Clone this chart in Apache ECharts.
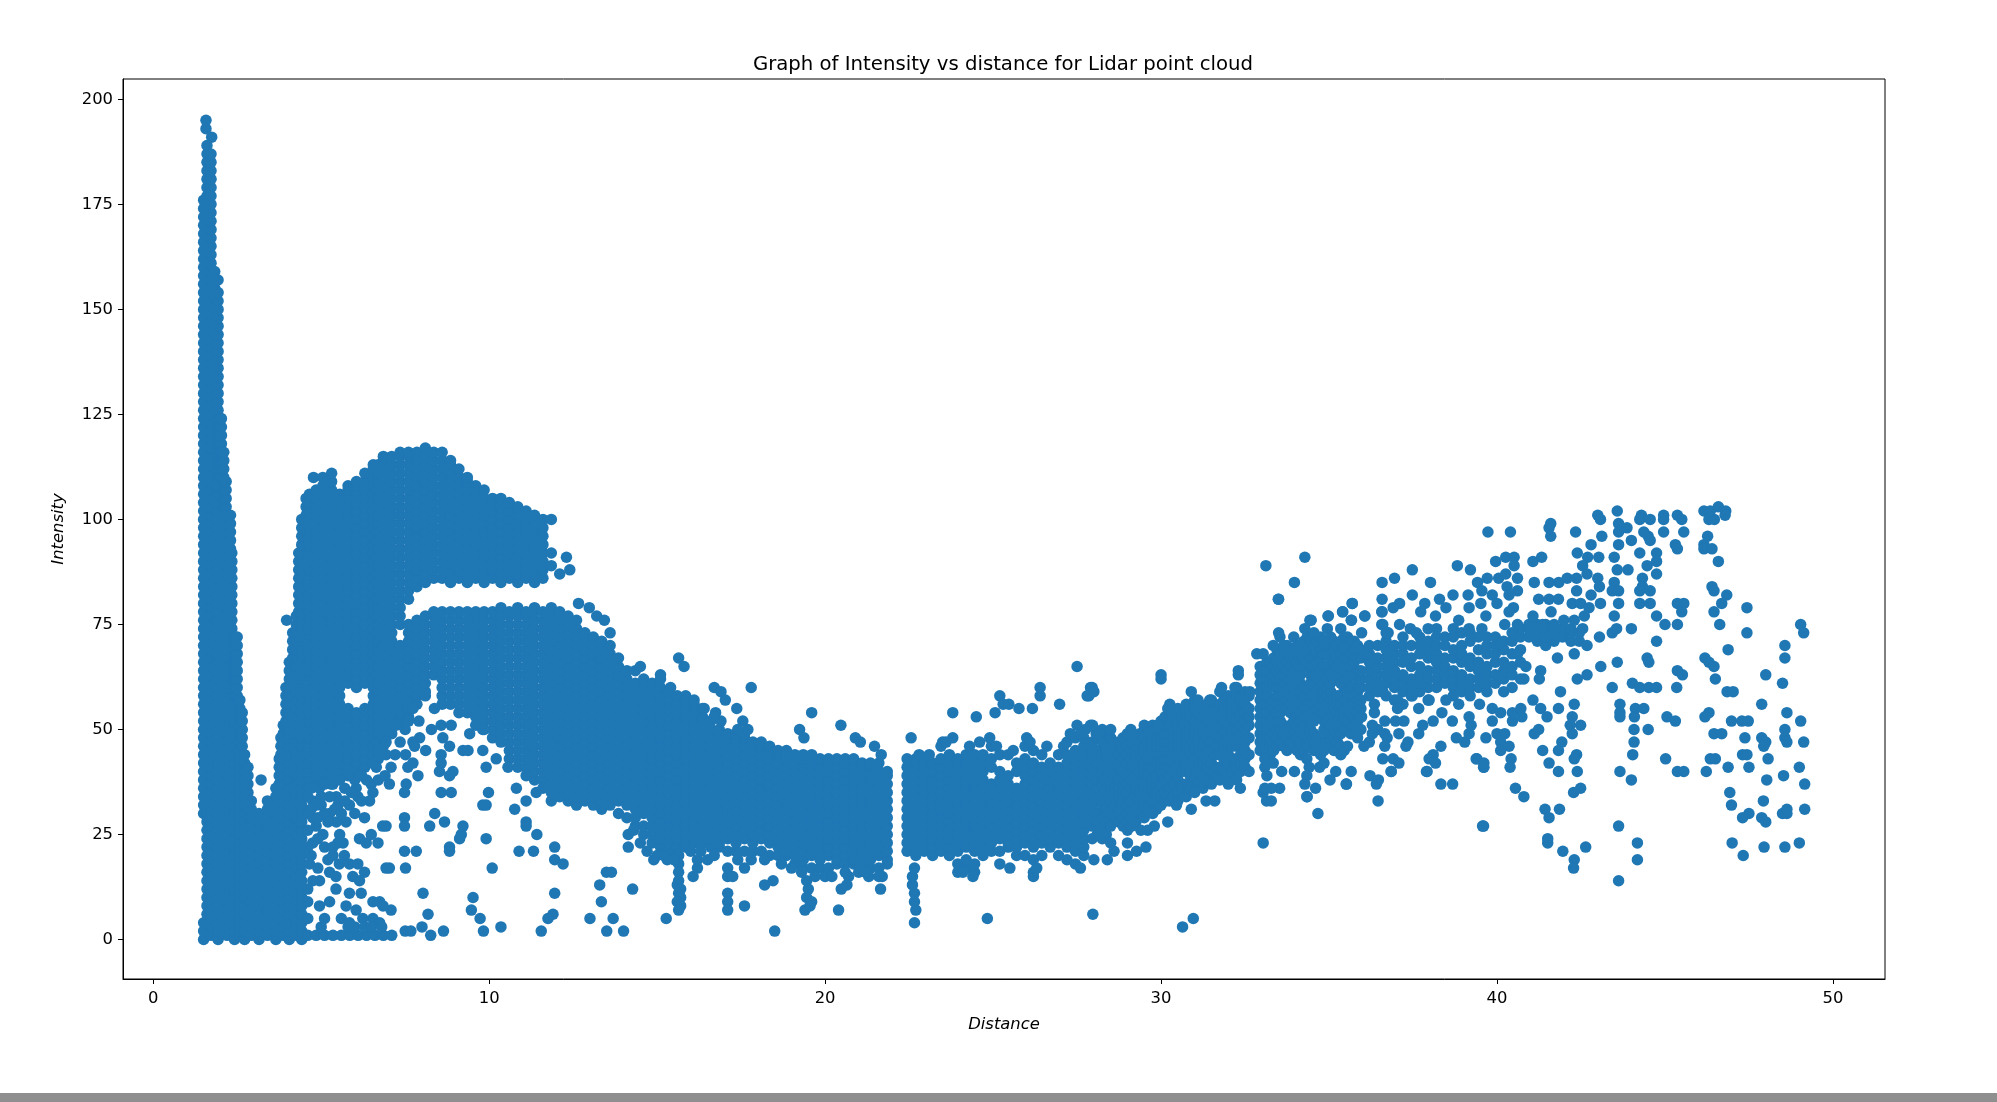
<!DOCTYPE html>
<html><head><meta charset="utf-8">
<script src="https://cdn.jsdelivr.net/npm/echarts@6/dist/echarts.min.js"></script>
<style>html,body{margin:0;padding:0;background:#fff}#c{width:1997px;height:1102px}</style>
</head><body><div id="c"></div>
<script>
const xTickValues=[0,10,20,30,40,50];
const yTickValues=[0,25,50,75,100,125,150,175,200];
const chartTitle='Graph of Intensity vs distance for Lidar point cloud';
// columns: [distance, intensity, intensity, ...]
const spikeCols=[
[1.5,0,2,4,30,32,34,36,38,40,42,44,46,48,50,52,54,56,58,60,62,64,66,68,70,72,74,76,78,80,82,84,86,88,90,92,94,96,98,100,102,104,106,108,110,112,114,116,118,120,122,124,126,128,130,132,134,136,138,140,142,144,146,148,150,152,154,156,158,160,162,164,166,168,170,172,174,176],
[1.6,4,6,8,10,12,14,16,18,20,22,24,26,28,30,177,179,181,183,185,187,189],
[1.57,193,195],[1.74,191],
[1.72,1,3,5,7,9,11,13,15,17,19,21,23,25,27,29,31,33,35,37,39,41,43,45,47,49,51,53,55,57,59,61,63,65,67,69,71,73,75,77,79,81,83,85,87,89,91,93,95,97,99,101,103,105,107,109,111,113,115,117,119,121,123,125,127,129,131,133,135,137,139,141,143,145,147,149,151,153,155,157,159,161,163,165,167,169,171,173,175,177,179,181,183,185,187],
[1.83,153,155,157,159],
[1.93,0,2,4,6,8,10,12,14,16,18,20,22,24,26,28,30,32,34,36,38,40,42,44,46,48,50,52,54,56,58,60,62,64,66,68,70,72,74,76,78,80,82,84,86,88,90,92,94,96,98,100,102,104,106,108,110,112,114,116,118,120,122,124,126,128,130,132,134,136,138,140,142,144,146,148,150,152,154,157],
[2.03,110,112,114,116,118,120,122,124],
[2.1,104,106,108,110,112,114,116],
[2.17,103,105,107,109],
[2.2,1,3,5,7,9,11,13,15,17,19,21,23,25,27,29,31,33,35,37,39,41,43,45,47,49,51,53,55,57,59,61,63,65,67,69,71,73,75,77,79,81,83,85,87,89,91,93,95,97,99,101],
[2.3,93,95,97,99,101],
[2.34,74,76,78,80,82,84,86,88,90,92],
[2.42,0,2,4,6,8,10,12,14,16,18,20,22,24,26,28,30,32,34,36,38,40,42,44,46,48,50,52,54,56,58,60,62,64,66,68,70,72],
[2.5,58,60,62,64,66,68,70,72],
[2.58,1,3,5,7,9,11,13,15,17,19,21,23,25,27,29,31,33,35,37,39,41,43,45,47,49,51,53,55,57],
[2.65,46,48,50,52,54],
[2.72,0,2,4,6,8,10,12,14,16,18,20,22,24,26,28,30,32,34,36,38,40,42,44],
[2.82,35,37,39,41],
[2.92,1,3,5,7,9,11,13,15,17,19,21,23,25,27,29,31,33],
[3.15,0,2,4,6,8,10,12,14,16,18,20,22,24,26,28,30],
[3.21,38],
[3.4,1,3,5,7,9,11,13,15,17,19,21,23,25,27,29,31,33],
[3.65,0,2,4,6,8,10,12,14,16,18,20,22,24,26,28,30,32,34,36],
[3.75,37,39,41,43],
[3.8,44,46,48],
[3.87,1,3,5,7,9,11,13,15,17,19,21,23,25,27,29,31,33,35,37,39,41,43,45,47,49,51],
[3.95,50,52,54,56,58,60],
[3.97,76],
[4.05,0,2,4,6,8,10,12,14,16,18,20,22,24,26,28,30,32,34,36,38,40,42,44,46,48,50,52,54,56,58,60,62,64,66],
[4.15,67,69,71,73],
[4.26,1,3,5,7,9,11,13,15,17,19,21,23,25,27,29,31,33,35,37,39,41,43,45,47,49,51,53,55,57,59,61,63,65,67,69,71,73,75,77],
[4.33,78,80,82,84,86,88,90,92],
[4.42,0,2,4,6,8,10,12,14,16,18,20,22,24,26,28,30,32,34,36,38,40,42,44,46,48,50,52,54,56,58,60,62,64,66,68,70,72,74,76,78,80,82,84,86,88,90,92,94,96,98,100]
];
const leftLobeCols=[
[4.55,101,103,105],
[4.65,36,38,40,42,44,46,48,50,52,54,56,58,60,62,64,66,68,70,72,74,76,78,80,82,84,86,88,90,92,94,96,98,100,102,104,106],
[4.77,110],
[4.85,37,39,41,43,45,47,49,51,53,55,57,59,61,63,65,67,69,71,73,75,77,79,81,83,85,87,89,91,93,95,97,99,101,103,105,107],
[5.05,38,40,42,44,46,48,50,52,54,56,58,60,62,64,66,68,70,72,74,76,78,80,82,84,86,88,90,92,94,96,98,100,102,104,106,108,110],
[5.31,39,41,43,45,47,49,51,53,55,57,59,61,63,65,67,69,71,73,75,77,79,81,83,85,87,89,91,93,95,97,99,101,103,105,107,109,111],
[5.55,40,42,44,46,48,50,52,54,56,58,60,62,64,66,68,70,72,74,76,78,80,82,84,86,88,90,92,94,96,98,100,102,104,106],
[5.8,41,43,45,47,49,51,53,55,61,63,65,67,69,71,73,75,77,79,81,83,85,87,89,91,93,95,97,99,101,103,105,107,108],
[6.05,40,42,44,46,48,50,52,54,60,62,64,66,68,70,72,74,76,78,80,82,84,86,88,90,92,94,96,98,100,102,104,106,108,109],
[6.3,41,43,45,47,49,51,53,55,61,63,65,67,69,71,73,75,77,79,81,83,85,87,89,91,93,95,97,99,101,103,105,107,109,111],
[6.55,42,44,46,48,50,52,54,56,58,60,62,64,66,68,70,72,74,76,78,80,82,84,86,88,90,92,94,96,98,100,102,104,106,108,110,112,113],
[6.7,43,45,47,49,51,53,55,57,59,61,63,65,67,69,71,73,75,77,79,81,83,85,87,89,91,93,95,97,99,101,103,105,107,109,111,113],
[6.85,46,48,50,52,54,56,58,60,62,64,66,68,70,72,74,76,78,80,82,84,86,88,90,92,94,96,98,100,102,104,106,108,110,112,114,115],
[7.1,49,51,53,55,57,59,61,63,65,67,69,71,73,75,77,79,81,83,85,87,89,91,93,95,97,99,101,103,105,107,109,111,113,115],
[7.35,52,54,56,58,60,62,64,66,68,70,75,77,79,81,83,85,87,89,91,93,95,97,99,101,103,105,107,109,111,113,115,116],
[7.6,53,55,57,59,61,63,65,67,69,71,73,75,81,83,85,87,89,91,93,95,97,99,101,103,105,107,109,111,113,115,116],
[7.85,56,58,60,62,64,66,68,70,72,74,76,84,86,88,90,92,94,96,98,100,102,104,106,108,110,112,114,116],
[8.1,58,59,61,63,65,67,69,71,73,75,77,85,87,89,91,93,95,97,99,101,103,105,107,109,111,113,115,117],
[8.35,63,65,67,69,71,73,75,77,78,86,88,90,92,94,96,98,100,102,104,106,108,110,112,114,116],
[8.6,56,58,60,62,64,66,68,70,72,74,76,78,86,88,90,92,94,96,98,100,102,104,106,108,110,112,114,116],
[8.85,56,58,60,62,64,66,68,70,72,74,76,78,85,87,89,91,93,95,97,99,101,103,105,107,109,111,113,114],
[9.1,54,56,58,60,62,64,66,68,70,72,74,76,78,86,88,90,92,94,96,98,100,102,104,106,108,110,112],
[9.35,54,56,58,60,62,64,66,68,70,72,74,76,78,85,87,89,91,93,95,97,99,101,103,105,107,109,110],
[9.6,51,53,55,57,59,61,63,65,67,69,71,73,75,77,78,86,88,90,92,94,96,98,100,102,104,106,108],
[9.85,50,52,54,56,58,60,62,64,66,68,70,72,74,76,78,85,87,89,91,93,95,97,99,101,103,105,107],
[10.1,48,50,52,54,56,58,60,62,64,66,68,70,72,74,76,78,86,88,90,92,94,96,98,100,102,104,105],
[10.35,47,49,51,53,55,57,59,61,63,65,67,69,71,73,75,77,79,85,87,89,91,93,95,97,99,101,103,105],
[10.6,43,45,47,49,51,53,55,57,59,61,63,65,67,69,71,73,75,77,78,86,88,90,92,94,96,98,100,102,104],
[10.85,41,43,45,47,49,51,53,55,57,59,61,63,65,67,69,71,73,75,77,79,85,87,89,91,93,95,97,99,101,103],
[11.1,39,41,43,45,47,49,51,53,55,57,59,61,63,65,67,69,71,73,75,77,78,86,88,90,92,94,96,98,100,102],
[11.35,38,40,42,44,46,48,50,52,54,56,58,60,62,64,66,68,70,72,74,76,78,79,85,87,89,91,93,95,97,99,101],
[11.6,36,38,40,42,44,46,48,50,52,54,56,58,60,62,64,66,68,70,72,74,76,78,86,88,90,92,94,96,98,100],
[11.85,33,35,37,39,41,43,45,47,49,51,53,55,57,59,61,63,65,67,69,71,73,75,77,79,89,92,100],
[12.1,34,36,38,40,42,44,46,48,50,52,54,56,58,60,62,64,66,68,70,72,74,76,78,87],
[12.3,91],[12.4,88],
[12.35,33,35,37,39,41,43,45,47,49,51,53,55,57,59,61,63,65,67,69,71,73,75,77],
[12.6,32,34,36,38,40,42,44,46,48,50,52,54,56,58,60,62,64,66,68,70,72,74,76],
[12.66,80],[12.98,79],[13.2,77],[13.43,76],
[12.85,33,35,37,39,41,43,45,47,49,51,53,55,57,59,61,63,65,67,69,71,73],
[13.1,32,34,36,38,40,42,44,46,48,50,52,54,56,58,60,62,64,66,68,70,72],
[13.35,31,33,35,37,39,41,43,45,47,49,51,53,55,57,59,61,63,65,67,69,71],
[13.6,32,34,36,38,40,42,44,46,48,50,52,54,56,58,60,62,64,66,68,70,73],
[13.85,30,33,35,37,39,41,43,45,47,49,51,53,55,57,59,61,63,65,67]
];
const midCols=[
[14.1,29,32,34,36,38,40,42,44,46,48,50,52,54,56,58,60,62,64],
[14.35,27,29,31,33,35,37,39,41,43,45,47,49,51,53,55,57,59,61,64],
[14.6,25,27,30,32,34,36,38,40,42,44,46,48,50,52,54,56,58,60,62],
[14.85,23,25,27,29,31,33,35,37,39,41,43,45,47,49,51,53,55,57,59,61],
[15.1,22,24,26,28,30,32,34,36,38,40,42,44,46,48,50,52,54,56,58,60,62],
[15.35,21,23,25,27,29,31,33,35,37,39,41,43,45,47,49,51,53,55,57,59],
[15.6,20,22,24,26,28,30,32,34,36,38,40,42,44,46,48,50,52,54,56,58],
[15.85,22,23,25,27,29,31,33,35,37,39,41,43,45,47,49,51,53,55,57,58],
[16.1,23,24,26,28,30,32,34,36,38,40,42,44,46,48,50,52,54,56],
[16.35,23,25,27,29,31,33,35,37,39,41,43,45,47,49,51,53,55],
[16.6,22,24,26,28,30,32,34,36,38,40,42,44,46,48,50,52],
[16.85,22,23,25,27,29,31,33,35,37,39,41,43,45,47,49,50],
[17.1,21,24,26,28,30,32,34,36,38,40,42,44,46,48,49],
[17.35,21,23,25,27,29,31,33,35,37,39,41,43,45,47,49],
[17.6,21,24,26,28,30,32,34,36,38,40,42,44,46,48,49],
[17.85,21,23,25,27,29,31,33,35,37,39,41,43,45,47],
[18.1,21,24,26,28,30,32,34,36,38,40,42,44,46,47],
[18.35,20,23,25,27,29,31,33,35,37,39,41,43,45,46],
[18.6,20,22,24,26,28,30,32,34,36,38,40,42,44,45],
[18.85,20,21,23,25,27,29,31,33,35,37,39,41,43,45],
[19.1,18,20,22,24,26,28,30,32,34,36,38,40,42,44],
[19.35,17,19,21,23,25,27,29,31,33,35,37,39,41,43,44],
[19.6,17,20,22,24,26,28,30,32,34,36,38,40,42,44],
[19.85,17,19,21,23,25,27,29,31,33,35,37,39,41,43],
[20.1,17,20,22,24,26,28,30,32,34,36,38,40,42,43],
[20.35,18,19,21,23,25,27,29,31,33,35,37,39,41,43],
[20.6,18,20,22,24,26,28,30,32,34,36,38,40,42,43],
[20.85,18,19,21,23,25,27,29,31,33,35,37,39,41,43],
[21.1,18,20,22,24,26,28,30,32,34,36,38,40,42],
[21.35,17,19,21,23,25,27,29,31,33,35,37,39,41,42],
[21.6,17,20,22,24,26,28,30,32,34,36,38,40,42],
[21.85,18,19,21,23,25,27,29,31,33,35,37,39,40]
];
const farCols=[
[22.44,21,23,25,27,29,31,33,35,37,39,41,43],
[22.7,20,22,24,26,28,30,32,34,36,38,40,42,43],
[22.95,21,23,25,27,29,31,33,35,37,39,41,43],
[23.2,20,22,24,26,28,30,32,34,36,38,40,42],
[23.45,21,23,25,27,29,31,33,35,37,39,41,43,46],
[23.7,20,22,24,26,28,30,32,34,36,38,40,42,44],
[23.95,16,18,21,23,25,27,29,31,33,35,37,39,41,43],
[24.2,17,19,22,24,26,28,30,32,34,36,38,40,42,44],
[24.45,16,18,21,23,25,27,29,31,33,35,37,39,41,43,44],
[24.7,20,22,24,26,28,30,32,34,36,38,40,42,44],
[24.95,21,23,25,27,29,31,33,35,37,41,43,46],
[25.2,21,24,26,28,30,32,34,36,38,40,44],
[25.45,22,23,25,27,29,31,33,35,37,39,44],
[25.7,20,22,24,26,28,30,32,34,36,40,42],
[25.95,20,23,25,27,29,31,33,35,37,39,41,43,46],
[26.2,16,19,22,24,26,28,30,32,34,36,38,40,42,45],
[26.45,20,23,25,27,29,31,33,35,37,39,41,44],
[26.7,22,24,26,28,30,32,34,36,38,40,42],
[26.95,20,23,25,27,29,31,33,35,37,39,41,44],
[27.2,19,22,24,26,28,30,32,34,36,38,40,42,44,47],
[27.45,18,21,23,25,27,29,31,33,35,37,39,41,43,45,48],
[27.7,20,22,24,26,28,30,32,34,36,38,40,42,44,46,48],
[27.95,24,27,29,31,33,35,37,39,41,43,45,47],
[28.1,25,28,30,33,36,38,40,42,45,48],
[28.25,24,26,29,32,34,37,39,41,44,47,50],
[28.37,25,28,31,33,36,38,43,45,46,49],
[28.5,27,30,33,35,37,40,42,44,46,48],
[28.62,29,32,34,36,39,41,43,45,47],
[28.75,28,31,34,36,38,41,44,47],
[28.87,27,29,33,35,37,40,43,45,48],
[29,26,28,30,32,35,37,39,42,44,46,49],
[29.12,27,29,31,33,36,38,41,43,45,47],
[29.25,28,31,34,36,39,41,43,45,48],
[29.37,30,33,35,38,40,42,44,47,49],
[29.5,29,32,35,37,40,42,44,46,48,50],
[29.62,31,34,36,39,41,43,45,47,49],
[29.75,30,33,36,38,41,43,45,47,49,51],
[29.87,31,35,37,39,42,44,46,48,50],
[30,32,34,37,40,42,44,46,48,50,52],
[30.12,33,35,38,41,43,45,47,49,51,53],
[30.25,33,36,39,41,43,45,47,49,51,54],
[30.37,34,37,40,42,44,46,48,50,53],
[30.5,33,35,38,41,44,46,48,50,52,55],
[30.62,35,37,40,43,45,47,49,51,53],
[30.75,34,37,40,42,45,47,49,52,54,56],
[30.87,36,39,41,44,46,48,50,53,55],
[31,35,38,41,43,46,48,50,52,55,57],
[31.12,37,40,42,45,47,49,51,54,56],
[31.25,36,39,42,44,46,49,51,53,55],
[31.37,38,41,43,45,48,50,52,54,56],
[31.5,37,40,42,45,47,50,52,54,57],
[31.62,39,41,44,46,49,51,53,55],
[31.75,38,41,44,46,48,51,53,56,59],
[31.87,40,43,45,47,50,52,55,57],
[32,39,42,44,47,49,51,54,56,58],
[32.12,40,43,46,48,50,53,55,57],
[32.25,38,41,43,46,48,50,52,55,58,60],
[32.37,40,42,44,47,49,51,54,57],
[32.5,41,43,45,47,50,52,54,56,59],
[32.62,40,44,48,51,53,55,58]
];
const bandCols=[
[32.95,45,47,49,51,53,55,57,59,61,63,65],
[33.05,48,50,52,54,56,58,60,62,64],
[33.15,46,48,50,52,54,56,58,60,62,64,66],
[33.25,44,46,48,50,52,54,56,60,62,64,66],
[33.35,45,47,49,51,53,55,57,61,63,65,67],
[33.45,46,48,50,52,54,56,58,60,62,64,66,69],
[33.55,47,50,52,54,56,58,60,62,64,66,68],
[33.65,46,49,51,55,57,59,61,63,65,67,70],
[33.75,45,48,50,55,57,59,61,64,66,68,70],
[33.85,47,49,51,54,56,58,60,62,65,67,69],
[33.95,46,49,52,55,58,60,62,64,67,69,72],
[34.05,45,48,51,53,55,57,59,61,63,66,68,70],
[34.15,44,47,50,52,54,56,59,61,63,65,68,70],
[34.25,45,49,51,53,55,58,60,65,67,71],
[34.35,46,48,51,53,55,57,60,65,66,69,72],
[34.45,47,49,50,52,54,56,58,61,63,65,67,71],
[34.55,45,47,49,52,54,56,58,61,63,65,67,70,73],
[34.65,46,48,53,55,57,59,62,64,66,68,71],
[34.75,44,46,53,55,58,60,62,64,67,69,72],
[34.85,45,47,50,52,54,57,59,61,63,65,68,71],
[34.95,47,49,52,54,56,58,60,62,65,68,70,74],
[35.05,46,48,51,53,55,57,59,61,63,66,69,72],
[35.15,45,48,50,53,55,57,62,64,66,69,71],
[35.25,47,49,52,54,56,58,63,65,67,70],
[35.35,44,46,49,51,54,56,58,61,63,66,68,71,74],
[35.45,45,50,53,55,57,59,60,62,64,67,69,72],
[35.55,46,50,52,55,57,59,62,65,67,70,72],
[35.65,49,51,54,56,58,60,63,65,68,71],
[35.75,51,53,56,58,60,63,66,69,71],
[35.85,48,52,54,57,59,61,64,67,70],
[35.95,50,55,57,60,62,64,67,69],
[36.2,47,58,60,62,64,66,68,70],
[36.45,50,59,61,63,65,67,70],
[36.7,58,61,63,65,67,69,71,73],
[36.95,57,60,62,64,66,68,70],
[37.2,56,59,61,63,66,68,70,72],
[37.45,58,60,62,65,67,70],
[37.7,59,61,63,65,68,70,72],
[37.95,57,60,62,64,67,69,71,74],
[38.2,60,62,64,66,68,70,72,74],
[38.45,61,63,65,67,70,72],
[38.7,58,60,62,64,67,69,72,74],
[38.95,59,61,63,66,68,70,73],
[39.2,58,60,62,65,67,71,73],
[39.45,60,62,64,66,69,72],
[39.7,59,61,63,65,68,70,72],
[39.95,61,63,66,68,70,72],
[40.2,59,62,64,66,69,71],
[40.45,60,63,65,68,71,73],
[40.7,62,66,69,72,74],
[40.95,72,74,75],[41.2,71,73,75],[41.45,70,72,74,75],[41.7,71,73,75],[41.95,72,74],[42.2,71,73,74],[42.45,71,73]
];
// individually readable points as distance,intensity pairs
const nearScatter=[5.35,37,5.55,38,6.04,36,6.09,34,6.49,37,6.54,35,6.44,33,5.84,32,5.5,32,5.45,34,5.25,34,5,32,6.29,29,4.85,32,7.03,37,7.08,41,7.53,37,7.48,35,6.93,47,6.93,44,6.64,41,7.23,51,7.73,55,7.91,52,8.37,55,8.28,50,8.57,51,8.87,51,8.62,48,8.82,46,9.42,49,9.81,50,9.22,45,9.37,45,9.81,45,7.93,48,7.73,47,7.78,46,8.11,45,7.51,44,8.57,44,8.57,42,8.52,40,7.73,42,7.58,41,8.92,40,8.82,39,7.88,39,8.57,35,8.87,35,9.98,35,9.91,41,10.21,43,10.56,41,10.81,36,11.1,33,11.4,35,10.76,31,9.91,32,9.81,32,8.38,30,7.48,29,7.48,27,6.93,27,6.83,27,8.23,27,8.67,28,9.22,27,9.17,25,9.12,24,9.91,24,11.1,28,11.1,27,11.42,25,8.82,22,8.82,21,7.48,21,7.83,21,10.89,21,11.32,21,11.95,22,11.95,19,12.2,18,10.09,17,7.03,17,7.51,17,6.93,17,8.03,11,9.52,10,11.95,11,9.47,7,9.73,5,8.18,6,13.34,9,13.29,13,13.49,16,13.64,16,13,5,11.9,6,11.75,5,13.69,5,13.5,2,14,2,6.14,24,6.34,23,6.69,23,6.49,25,5.5,23,5.55,25,5.05,25,4.75,23,4.85,27,5.25,30,5.74,28,5.45,28,5.2,19,4.65,18,5.69,20,5.54,18,5.84,18,6.09,18,6.29,16,5.25,16,5.44,15,4.95,14,4.75,14,5.94,15,6.14,14,4.6,12,5.44,12,5.84,11,6.19,11,5.25,9,4.95,8,5.1,5,5.74,8,6.04,7,6.54,9,6.74,9,7.08,7,6.84,8,6.54,5,5.6,5,5.84,4,6.24,5,6.74,4,4.6,1,4.85,1,5.1,1,5.35,1,5.6,1,5.85,1,6.1,1,6.35,1,6.6,1,6.85,1,7.1,1,5,3,5.8,3,6,3,6.3,3,6.5,3,6.8,3,7.5,2,7.67,2,8,3,8.26,1,8.64,2,9.83,2,10.35,3,11.55,2,4.6,30,4.6,26,4.6,22,4.6,9,4.6,5,4.75,29,4.75,33,4.95,36,4.6,34,4.7,31,4.7,36,4.9,29,5,34,5.1,30,5.1,37,5.3,37,5.4,31,5.6,30,5.7,36,5.7,33,5.9,35,6,38,5.8,39,5.2,28,4.9,24,5.1,22,4.7,20,4.9,17,5.35,22,5.35,20,5.65,23,6,30,6.2,33,6.35,38,6.7,38,6.2,39,6.9,39,7.2,44,7.35,47,7.5,50,7.6,52];
const midScatter=[15.64,67,15.8,65,16.7,60,16.9,59,17.03,57,17.37,55,17.8,60,16.74,54,16.9,52,17.55,52,17.7,50,19.6,54,19.24,50,19.37,48,20.47,51,20.9,48,21.05,47,21.47,46,21.67,44,14.14,25,14.14,22,14.27,12,15.27,5,15.64,20,15.64,18,15.64,16,15.64,14,15.6,13,15.7,12,15.64,11,15.7,10,15.6,9,15.7,8,15.64,7,14.9,19,15.3,19,16.07,15,16.2,17,16.2,19,16.5,19,17.1,17,17.1,15,17.25,15,17.1,11,17.1,9,17.1,7,17.6,17,17.6,8,18.2,13,18.45,14,18.5,2,19.45,14,19.5,12,19.45,10,19.6,9,19.4,7,19.55,8,20,15,20.4,7,20.48,12,20.7,15,20.65,13,21.65,12,21.7,15,22.66,4,22.7,7,22.66,9,22.66,11,22.6,13,22.6,15,22.66,17,24.83,5,27.97,6,22.56,48,23.8,54,24.5,53,23.8,48,25.06,54,25.2,58,25.3,56,25.47,56,25.77,55,26.17,55,26.4,60,26.4,58,26.98,56,27.5,65,27.95,60,27.85,58,27.9,51,27.5,51,28.07,49,27.9,60,27.8,58,28,59,27.96,51,28.15,49,28.5,50,29.1,50,29.5,51,29.9,51,30.26,56,30.2,55,30.9,59,31.1,57,31.45,57,31.8,60,32.3,64,32.3,63,32.2,60,32.64,59,30,63,30,62,27.6,17,28,19,28.4,19,29,20,29.27,21,29.55,22,28.5,23,28.6,21,29,23,29.4,26,29.6,26,29.8,27,30.2,28,30.46,32,30.9,31,31.34,33,31.6,33,32.36,36,32,37,30.64,3,30.96,5,24.1,16,24.4,15,26.2,15,26.3,17,25.2,18,25.5,17,14.3,26,14.5,23,14.7,21,15,20,15.2,20,15.5,19,16,21,16.3,21,16.7,20,17.4,19,17.8,19,18.2,19,18.7,18,19,17,19.3,16,19.7,15,20.2,15,20.6,16,21,16,21.3,15,21.6,15,21.2,16,14.5,65,15.1,63,15.4,60,16.1,57,16.4,55,16.7,53,17.4,50,22.8,44,23.1,44,23.5,47,23.6,47,24.3,46,24.6,47,24.9,48,25.1,46,25.6,45,26,48,26.1,47,26.6,46,27.1,46,27.3,49,27.6,49,27.75,50];
const farScatter=[33.04,68,32.85,68,33.54,72,33.5,73,33.34,70,34.43,76,34.98,77,35.4,78,35.67,76,36.07,77,36.57,78,36.57,75,36.76,73,35.69,80,33.5,81,33.04,23,34.67,30,39.6,27,34.35,34,36.46,33,38.33,37,38.68,37,35.52,37,37.9,40,36.85,40,39.6,41,39.4,43,33.14,33,33.28,33,33.04,35,33.09,36,33.09,41,33.09,43,33.34,42,33.15,39,33.59,40,33.97,40,33.53,36,33.28,36,34.34,43,34.41,41,34.34,39,34.72,41,34.85,42,34.28,37,34.6,36,34.34,34,35.2,40,35.03,38,35.66,40,35.51,37,36.22,39,36.47,38,36.41,37,36.85,40,36.6,43,36.91,43,37.08,42,37.92,40,38.1,44,37.98,43,38.17,42,38.33,46,39.38,43,39.61,42,39.61,41,40.42,43,40.39,41,36.66,49,36.73,48,36.66,46,37.08,49,37.29,46,37.35,47,37.67,49,37.79,51,38.1,52,38.36,54,38.67,52,38.79,48,39.04,47,39.17,49,39.23,51,39.17,53,39.48,56,39.86,55,39.86,52,40.11,54,40.46,52,40.46,54,40.71,55,40.74,53,39.67,48,40,49,40.23,49,40.11,47,40.36,46,40.11,45,38.86,56,38.48,57,37.98,57,37.67,55,37.23,52,36.98,52,36.66,52,36.29,49,36.29,51,35.97,53,36.04,46,37.04,57,37.04,55,37.48,58,36.6,59,36.35,56,36.35,54,34.28,74,34.47,76,34.97,77,35.41,78,36.06,77,35.66,76,36.58,78,37.1,80,36.91,79,37.73,78,37.85,80,38.29,81,38.48,79,38.17,77,38.86,76,39.17,74,39.55,74,36.6,75,36.73,73,37.1,75,37.42,74,37.6,73,35.97,73];
const outerScatter=[39.73,97,40.4,97,41.55,98,41.6,99,41.6,96,42.34,97,43,101,43.08,100,43.12,96,43.58,102,43.62,99,43.62,97,43.87,98,44.3,101,44.25,100,44.56,100,44.37,97,44.5,96,44.56,95,44.96,101,44.96,100,44.96,97,45.37,101,45.5,100,45.56,97,46.16,102,46.31,100,46.47,100,46.59,103,46.81,102,46.79,101,46.35,102,45.31,94,45.37,93,46.16,94,46.16,93,46.4,93,46.27,96,46.59,90,44,95,43.62,94,44.25,92,44.75,92,44.75,90,44.47,89,44.75,87,43.49,91,43.03,91,42.8,94,42.39,92,42.7,91,42.55,89,43.58,88,43.9,88,43.49,85,43.43,83,44.33,86,44.33,84,44.25,83,44.56,83,44.25,80,44.56,80,43.62,80,43.08,80,43.62,83,39.96,90,40.26,91,40.51,91,40.51,89,41.07,90,41.33,91,38.82,89,39.21,88,37.48,88,38.02,85,36.95,86,36.58,85,33.97,85,34.28,91,33.12,89,33.49,81,35.69,80,37.48,82,36.58,81,38.69,82,39.14,82,39.17,79,39.42,85,39.71,86,40.05,86,40.26,87,40.61,86,41.11,85,41.55,85,41.84,85,42.09,86,42.37,86,42.68,87,43,86,43.05,84,39.55,83,39.86,82,40.3,84,40.61,83,40.36,82,41.24,81,41.55,81,41.83,81,42.37,83,42.24,80,42.49,80,42.8,82,42.74,79,42.6,77,39.52,80,40,80,40.49,79,40.36,78,41.61,78,39.67,77,41.07,77,40.23,75,40.61,75,41.36,75,41.99,76,42.3,76,42.55,74,42.68,70,42.3,68,41.8,67,43.49,77,44.75,77,45,75,45.37,75,45.37,80,45.56,80,45.5,78,44,74,43.43,73,43.56,74,43.05,72,44.75,71,46.4,84,46.46,83,46.84,82,46.69,80,46.46,78,46.63,75,47.44,79,47.44,73,46.88,69,48.57,70,48.57,67,49.04,75,49.13,73,46.19,67,46.31,66,46.46,65,44.47,67,44.52,66,43.58,66,43.09,65,42.68,63,42.39,62,41.3,64,41.26,62,40.86,65,40.8,62,40.61,68,45.37,64,45.52,63,46.5,62,48,63,48.5,61,43.43,60,44.03,61,44.25,60,44.52,60,44.75,60,45.35,60,46.85,59,47.03,59,47.88,56,41.89,59,42.3,56,41.07,57,41.3,55,41.49,53,41.83,55,43.66,56,43.66,54,43.66,53,44.12,55,44.37,55,44.09,53,45.06,53,45.31,52,46.31,54,46.19,53,46.98,52,47.29,52,47.48,52,48.63,54,49.04,52,42.24,53,42.18,51,42.49,51,42.24,49,41.24,50,41.11,49,44.08,50,44.5,50,44.08,47,46.46,49,46.69,49,47.38,48,48.57,50,47.88,48,48.57,48,48.63,47,49.13,47,48,47,47.94,46,41.93,47,41.83,45,41.36,45,42.37,44,42.3,43,41.55,42,44.04,44,45.02,43,46.35,43,46.5,43,47.31,44,47.44,44,48.07,43,46.88,41,47.5,41,49,41,41.83,40,42.39,40,43.66,40,45.37,40,45.56,40,46.23,40,48.53,39,44,38,48.03,38,49.16,37,42.49,36,42.28,35,40.55,36,40.8,34,46.93,35,47.93,33,46.98,32,49.16,31,48.63,30,48.5,30,48.63,31,47.5,30,47.31,29,47.88,29,48,28,41.43,31,41.55,29,41.86,31,39.57,27,43.62,27,41.51,24,41.51,23,44.18,23,41.96,21,42.64,22,42.3,19,42.28,17,44.18,19,43.62,14,47,23,47.33,20,47.95,22,48.57,22,49,23];

const points=[];
[spikeCols,leftLobeCols,midCols,farCols,bandCols].forEach(t=>t.forEach(c=>{for(let i=1;i<c.length;i++)points.push([c[0],c[i]]);}));
[nearScatter,midScatter,farScatter,outerScatter].forEach(a=>{for(let i=0;i<a.length;i+=2)points.push([a[i],a[i+1]]);});

const textStyle={fontFamily:'DejaVu Sans',fontSize:16.4,color:'#000'};
const chart=echarts.init(document.getElementById('c'),null,{renderer:'canvas'});
chart.setOption({
 animation:false,backgroundColor:'#fff',
 title:{text:chartTitle,left:998,top:49.5,textAlign:'center',textStyle:{fontFamily:'DejaVu Sans',fontSize:19.7,fontWeight:'normal',color:'#000'}},
 grid:{left:123,right:112,top:79,bottom:123,show:true,borderColor:'#000',borderWidth:1,backgroundColor:'#fff'},
 xAxis:{type:'value',min:-0.9,max:51.55,splitLine:{show:false},name:'Distance',nameLocation:'middle',nameGap:38,
  nameTextStyle:Object.assign({},textStyle,{fontStyle:'italic'}),
  axisLine:{onZero:false,lineStyle:{color:'#000',width:1}},
  axisTick:{length:5,lineStyle:{color:'#000'},customValues:xTickValues},
  axisLabel:Object.assign({},textStyle,{margin:12,customValues:xTickValues})},
 yAxis:{type:'value',min:-9.4,max:204.84,splitLine:{show:false},name:'Intensity',nameLocation:'middle',nameGap:56,
  nameTextStyle:Object.assign({},textStyle,{fontStyle:'italic'}),
  axisLine:{onZero:false,lineStyle:{color:'#000',width:1}},
  axisTick:{length:5,lineStyle:{color:'#000'},customValues:yTickValues},
  axisLabel:Object.assign({},textStyle,{margin:10,customValues:yTickValues})},
 series:[{type:'scatter',data:points,symbol:'circle',symbolSize:11.5,large:false,progressive:0,silent:true,itemStyle:{color:'#1f77b4',opacity:1}}],
 graphic:[{type:'rect',left:0,top:1093,shape:{width:1997,height:9},style:{fill:'#8f8f8f'},silent:true}]
});
</script></body></html>
